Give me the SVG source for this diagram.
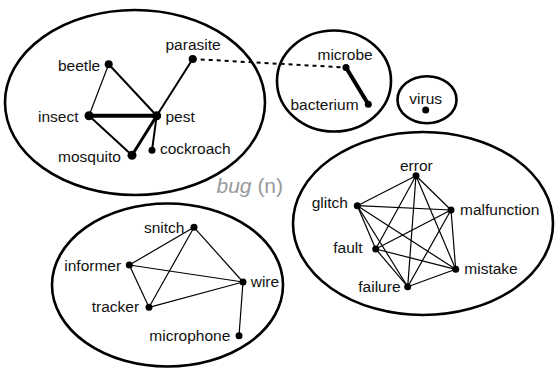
<svg xmlns="http://www.w3.org/2000/svg" width="556" height="370" viewBox="0 0 556 370">
<style>
.grp{fill:none;stroke:#000;stroke-width:2.6}
.lbl{font-family:"Liberation Sans",Arial,Helvetica,sans-serif;font-size:15.5px;fill:#111}
.e1{stroke:#000;stroke-width:1.2;fill:none}
.e2{stroke:#000;stroke-width:2;fill:none}
.e3{stroke:#000;stroke-width:3;fill:none}
.e4{stroke:#000;stroke-width:4;fill:none}
.dot{fill:#000}
.title{font-family:"Liberation Sans",Arial,Helvetica,sans-serif;font-size:21px;fill:#999}
</style>
<rect width="556" height="370" fill="#fff"/>
<g id="groups">
<ellipse class="grp" cx="135" cy="102.5" rx="130" ry="92.5"/>
<ellipse class="grp" cx="334" cy="81" rx="57" ry="50.5"/>
<ellipse class="grp" cx="427" cy="99.7" rx="29.5" ry="23.5"/>
<ellipse class="grp" cx="423" cy="223.5" rx="130" ry="91.5"/>
<ellipse class="grp" cx="167.5" cy="285" rx="115.5" ry="81.5"/>
</g>
<g id="connectors">
<line class="e1" x1="108.7" y1="64.3" x2="89" y2="115.7"/>
<line class="e2" x1="108.7" y1="64.3" x2="156.7" y2="115.7"/>
<line class="e4" x1="89" y1="115.7" x2="156.7" y2="115.7"/>
<line class="e2" x1="89" y1="115.7" x2="132" y2="155.3"/>
<line class="e3" x1="156.7" y1="115.7" x2="132" y2="155.3"/>
<line class="e2" x1="156.7" y1="115.7" x2="152" y2="150.3"/>
<line class="e2" x1="156.7" y1="115.7" x2="192.7" y2="59"/>
<line x1="192.7" y1="59" x2="346" y2="67.5" stroke="#000" stroke-width="2" stroke-dasharray="4 4"/>
<line class="e4" x1="346" y1="67.5" x2="368.3" y2="104.3"/>
<g class="e1">
<line x1="416" y1="175.7" x2="357.3" y2="205.7"/>
<line x1="416" y1="175.7" x2="451" y2="210"/>
<line x1="416" y1="175.7" x2="375.7" y2="249"/>
<line x1="416" y1="175.7" x2="455.7" y2="269.3"/>
<line x1="416" y1="175.7" x2="407.7" y2="286.7"/>
<line x1="357.3" y1="205.7" x2="451" y2="210"/>
<line x1="357.3" y1="205.7" x2="375.7" y2="249"/>
<line x1="357.3" y1="205.7" x2="455.7" y2="269.3"/>
<line x1="357.3" y1="205.7" x2="407.7" y2="286.7"/>
<line x1="451" y1="210" x2="375.7" y2="249"/>
<line x1="451" y1="210" x2="455.7" y2="269.3"/>
<line x1="451" y1="210" x2="407.7" y2="286.7"/>
<line x1="375.7" y1="249" x2="455.7" y2="269.3"/>
<line x1="375.7" y1="249" x2="407.7" y2="286.7"/>
<line x1="455.7" y1="269.3" x2="407.7" y2="286.7"/>
</g>
<g class="e1">
<line x1="194" y1="227.3" x2="129.3" y2="265"/>
<line x1="194" y1="227.3" x2="149" y2="307.3"/>
<line x1="194" y1="227.3" x2="243" y2="282"/>
<line x1="129.3" y1="265" x2="243" y2="282"/>
<line x1="129.3" y1="265" x2="149" y2="307.3"/>
<line x1="149" y1="307.3" x2="243" y2="282"/>
<line x1="243" y1="282" x2="239" y2="335.7"/>
</g>
</g>
<g id="n-beetle"><circle class="dot" cx="108.7" cy="64.3" r="4"/><text class="lbl" x="58" y="71">beetle</text></g>
<g id="n-parasite"><circle class="dot" cx="192.7" cy="59" r="4"/><text class="lbl" x="165.5" y="50">parasite</text></g>
<g id="n-insect"><circle class="dot" cx="89" cy="115.7" r="4.5"/><text class="lbl" x="38" y="121.5">insect</text></g>
<g id="n-pest"><circle class="dot" cx="156.7" cy="115.7" r="4.5"/><text class="lbl" x="165.5" y="121.5">pest</text></g>
<g id="n-mosquito"><circle class="dot" cx="132" cy="155.3" r="4.5"/><text class="lbl" x="58" y="161.5">mosquito</text></g>
<g id="n-cockroach"><circle class="dot" cx="152" cy="150.3" r="3.5"/><text class="lbl" x="160" y="153.5">cockroach</text></g>
<g id="n-microbe"><circle class="dot" cx="346" cy="67.5" r="3.5"/><text class="lbl" x="317.5" y="59.5">microbe</text></g>
<g id="n-bacterium"><circle class="dot" cx="368.3" cy="104.3" r="3.5"/><text class="lbl" x="290.5" y="110">bacterium</text></g>
<g id="n-virus"><circle class="dot" cx="425.7" cy="110" r="3.5"/><text class="lbl" x="409.3" y="104.3">virus</text></g>
<g id="n-error"><circle class="dot" cx="416" cy="175.7" r="3.5"/><text class="lbl" x="400" y="170.7">error</text></g>
<g id="n-glitch"><circle class="dot" cx="357.3" cy="205.7" r="3.5"/><text class="lbl" x="311.7" y="208.3">glitch</text></g>
<g id="n-malfunction"><circle class="dot" cx="451" cy="210" r="3.5"/><text class="lbl" x="460" y="215">malfunction</text></g>
<g id="n-fault"><circle class="dot" cx="375.7" cy="249" r="3.5"/><text class="lbl" x="333.3" y="253.3">fault</text></g>
<g id="n-mistake"><circle class="dot" cx="455.7" cy="269.3" r="3.5"/><text class="lbl" x="464.3" y="274">mistake</text></g>
<g id="n-failure"><circle class="dot" cx="407.7" cy="286.7" r="3.5"/><text class="lbl" x="358.3" y="291.7">failure</text></g>
<g id="n-snitch"><circle class="dot" cx="194" cy="227.3" r="3.5"/><text class="lbl" x="144" y="232.7">snitch</text></g>
<g id="n-informer"><circle class="dot" cx="129.3" cy="265" r="3.5"/><text class="lbl" x="64.3" y="271">informer</text></g>
<g id="n-wire"><circle class="dot" cx="243" cy="282" r="3.5"/><text class="lbl" x="250.7" y="286.7">wire</text></g>
<g id="n-tracker"><circle class="dot" cx="149" cy="307.3" r="3.5"/><text class="lbl" x="91.7" y="312.3">tracker</text></g>
<g id="n-microphone"><circle class="dot" cx="239" cy="335.7" r="3.5"/><text class="lbl" x="149.3" y="341">microphone</text></g>
<g id="title"><text class="title" x="216.5" y="192.5"><tspan font-style="italic">bug</tspan> (n)</text></g>
</svg>
